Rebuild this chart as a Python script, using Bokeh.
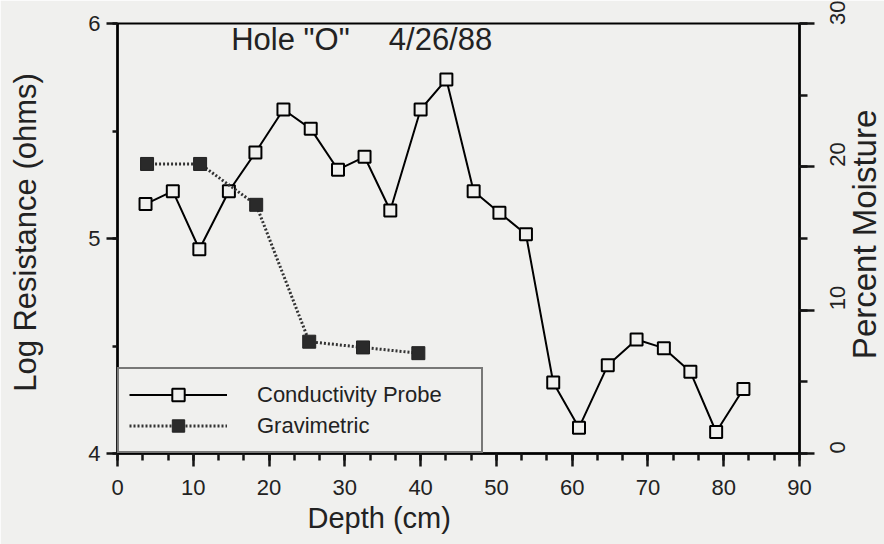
import math
from bokeh.plotting import figure
from bokeh.models import (Range1d, LinearAxis, FixedTicker, Legend, LegendItem, Label, Title)
from bokeh.embed import file_html
from bokeh.resources import INLINE

# ---- data ----
probe_depth = [3.7, 7.3, 10.8, 14.7, 18.2, 21.9, 25.5, 29.1, 32.6, 36.0, 40.0, 43.4,
               47.0, 50.4, 53.9, 57.5, 60.9, 64.7, 68.5, 72.1, 75.6, 79.0, 82.6]
probe_logres = [5.16, 5.22, 4.95, 5.22, 5.40, 5.60, 5.51, 5.32, 5.38, 5.13, 5.60, 5.74,
                5.22, 5.12, 5.02, 4.33, 4.12, 4.41, 4.53, 4.49, 4.38, 4.10, 4.30]
grav_depth = [3.9, 10.9, 18.3, 25.3, 32.4, 39.7]
grav_moisture = [20.2, 20.2, 17.35, 7.8, 7.4, 7.0]

x_ticks = [0, 10, 20, 30, 40, 50, 60, 70, 80, 90]
left_ticks = [4, 5, 6]
right_ticks = [0, 10, 20, 30]

title_left = 'Hole "O"'
title_right = '4/26/88'
x_title = "Depth (cm)"
left_title = "Log Resistance (ohms)"
right_title = "Percent Moisture"

BG = "#f0f0ee"
INK = "#000000"
TICK = "#141414"
TXT = "#222222"
FONT = "Liberation Sans"

p = figure(width=884, height=544, output_backend="svg", toolbar_location=None,
           x_range=Range1d(0, 90), y_range=Range1d(4, 6),
           min_border_left=117, min_border_right=85, min_border_top=23, min_border_bottom=91,
           background_fill_color=BG, border_fill_color=BG)
p.extra_y_ranges = {"moist": Range1d(0, 30)}
p.grid.visible = False
p.outline_line_color = INK
p.outline_line_width = 2

def style_axis(ax, major_out, minor_out):
    ax.axis_line_color = INK
    ax.axis_line_width = 2.5
    ax.major_tick_line_color = TICK
    ax.minor_tick_line_color = TICK
    ax.major_tick_line_width = 2.5
    ax.minor_tick_line_width = 2.5
    ax.major_tick_in = 0
    ax.minor_tick_in = 0
    ax.major_tick_out = major_out
    ax.minor_tick_out = minor_out
    ax.major_label_text_font = FONT
    ax.major_label_text_font_size = "22px"
    ax.major_label_text_color = TXT

xa = p.xaxis[0]
style_axis(xa, 13, 7)
xa.ticker = FixedTicker(ticks=x_ticks, minor_ticks=[i * 10 / 3 for i in range(28)])
xa.major_label_standoff = 13

ya = p.yaxis[0]
style_axis(ya, 11, 5)
ya.ticker = FixedTicker(ticks=left_ticks, minor_ticks=[4, 4.5, 5, 5.5, 6])
ya.major_label_standoff = 6

ra = LinearAxis(y_range_name="moist")
style_axis(ra, 15, 8)
ra.ticker = FixedTicker(ticks=right_ticks, minor_ticks=[0, 5, 10, 15, 20, 25, 30])
ra.major_label_orientation = math.pi / 2
ra.major_label_standoff = 23
p.add_layout(ra, "right")

# ---- series ----
l1 = p.line(probe_depth, probe_logres, line_color=INK, line_width=2)
s1 = p.scatter(probe_depth, probe_logres, marker="square", size=12,
               line_color=INK, line_width=2, fill_color=BG)
l2 = p.line(grav_depth, grav_moisture, y_range_name="moist", line_color="#333333",
            line_width=3, line_dash="2 2")
s2 = p.scatter(grav_depth, grav_moisture, y_range_name="moist", marker="square", size=13,
               line_color="#222222", line_width=1, fill_color="#2a2a2a")

legend = Legend(items=[LegendItem(label="Conductivity Probe", renderers=[l1, s1]),
                       LegendItem(label="Gravimetric", renderers=[l2, s2])],
                location="bottom_left", margin=0, padding=10, spacing=0,
                glyph_width=98, glyph_height=31, label_height=31, label_width=214,
                label_standoff=30, border_line_color=INK, border_line_width=2,
                background_fill_color=BG, background_fill_alpha=1,
                label_text_font=FONT, label_text_font_size="22px", label_text_color=TXT)
p.add_layout(legend)

p.add_layout(Label(x=15.0, y=5.842, text=title_left, text_font=FONT,
                   text_font_size="31px", text_color=TXT))
p.add_layout(Label(x=35.8, y=5.842, text=title_right, text_font=FONT,
                   text_font_size="31px", text_color=TXT))

# axis titles
p.add_layout(Title(text=x_title, align="left", offset=190, standoff=5,
                   text_font=FONT, text_font_size="29px", text_font_style="normal",
                   text_color=TXT), "below")
# vertical titles: labels placed in a side panel so they are not clipped to the frame
p.add_layout(Label(x=-12.1, y=5.028, text=left_title, text_font=FONT,
                   text_align="center", text_baseline="alphabetic", angle=math.pi / 2,
                   text_font_size="31px", text_color=TXT), "left")
p.add_layout(Label(x=98.6, y=5.019, text=right_title, text_font=FONT,
                   text_align="center", text_baseline="alphabetic", angle=math.pi / 2,
                   text_font_size="33px", text_color=TXT), "left")

open("out.html", "w").write(file_html(p, INLINE))
